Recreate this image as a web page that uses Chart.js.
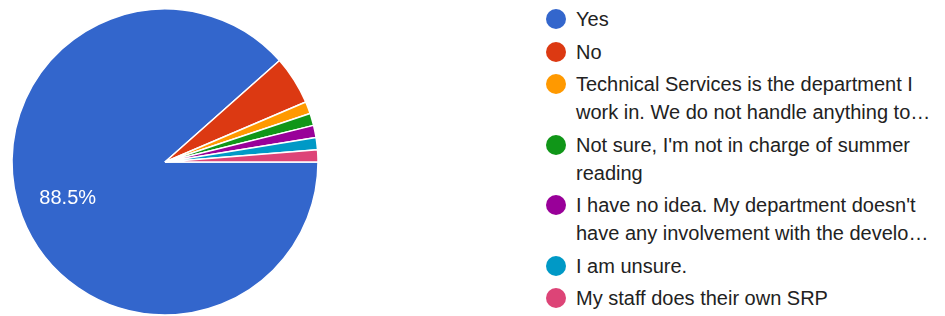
<!DOCTYPE html>
<html>
<head>
<meta charset="utf-8">
<script src="https://cdn.jsdelivr.net/npm/chart.js@4/dist/chart.umd.min.js"></script>
<style>
  html, body { margin: 0; padding: 0; background: #fff; }
  #wrap { position: relative; width: 945px; height: 316px; overflow: hidden; }
  #pieBox { position: absolute; left: 0; top: 0; width: 330px; height: 316px; }
  #legend { position: absolute; left: 546px; top: 5px; margin: 0; padding: 0; list-style: none;
    font-family: "Liberation Sans", Arial, sans-serif; font-size: 20px; color: #222; }
  #legend li { position: relative; padding-left: 30px; width: 370px; line-height: 28px; margin-bottom: 4.5px; white-space: normal; }
  #legend li span.dot { position: absolute; left: 0; top: 4px; width: 20px; height: 20px; border-radius: 50%; }
</style>
</head>
<body>
<div id="wrap">
  <div id="pieBox"><canvas id="c"></canvas></div>
  <ul id="legend"></ul>
</div>
<script>
const categories = [
  "Yes",
  "No",
  "Technical Services is the department I work in. We do not handle anything to\u2026",
  "Not sure, I'm not in charge of summer reading",
  "I have no idea. My department doesn't have any involvement with the develo\u2026",
  "I am unsure.",
  "My staff does their own SRP"
];
const responses = [69, 4, 1, 1, 1, 1, 1];
const sliceColors = ["#3366cc", "#dc3912", "#ff9900", "#109618", "#990099", "#0099c6", "#dd4477"];

const total = responses.reduce((a, b) => a + b, 0);

const sliceLabelPlugin = {
  id: 'sliceLabels',
  afterDatasetsDraw(chart) {
    const ctx = chart.ctx;
    const meta = chart.getDatasetMeta(0);
    meta.data.forEach((arc, i) => {
      const frac = responses[i] / total;
      if (frac < 0.1) return;
      const mid = (arc.startAngle + arc.endAngle) / 2;
      const r = arc.outerRadius * 0.68;
      const x = arc.x + Math.cos(mid) * r;
      const y = arc.y + Math.sin(mid) * r;
      ctx.save();
      ctx.fillStyle = '#ffffff';
      ctx.font = '20px "Liberation Sans", Arial, sans-serif';
      ctx.textAlign = 'center';
      ctx.textBaseline = 'middle';
      ctx.fillText((frac * 100).toFixed(1) + '%', x, y);
      ctx.restore();
    });
  }
};

new Chart(document.getElementById('c'), {
  type: 'pie',
  data: {
    labels: categories,
    datasets: [{
      data: responses,
      backgroundColor: sliceColors,
      borderColor: '#ffffff',
      borderWidth: 1.5,
      radius: 153
    }]
  },
  options: {
    responsive: true,
    maintainAspectRatio: false,
    animation: false,
    rotation: 90,
    layout: { padding: { top: 9, bottom: 1, left: 0, right: 0 } },
    plugins: {
      legend: { display: false },
      tooltip: { enabled: false }
    }
  },
  plugins: [sliceLabelPlugin]
});

const legend = document.getElementById('legend');
categories.forEach((label, i) => {
  const li = document.createElement('li');
  const dot = document.createElement('span');
  dot.className = 'dot';
  dot.style.background = sliceColors[i];
  li.appendChild(dot);
  li.appendChild(document.createTextNode(label));
  legend.appendChild(li);
});
</script>
</body>
</html>
